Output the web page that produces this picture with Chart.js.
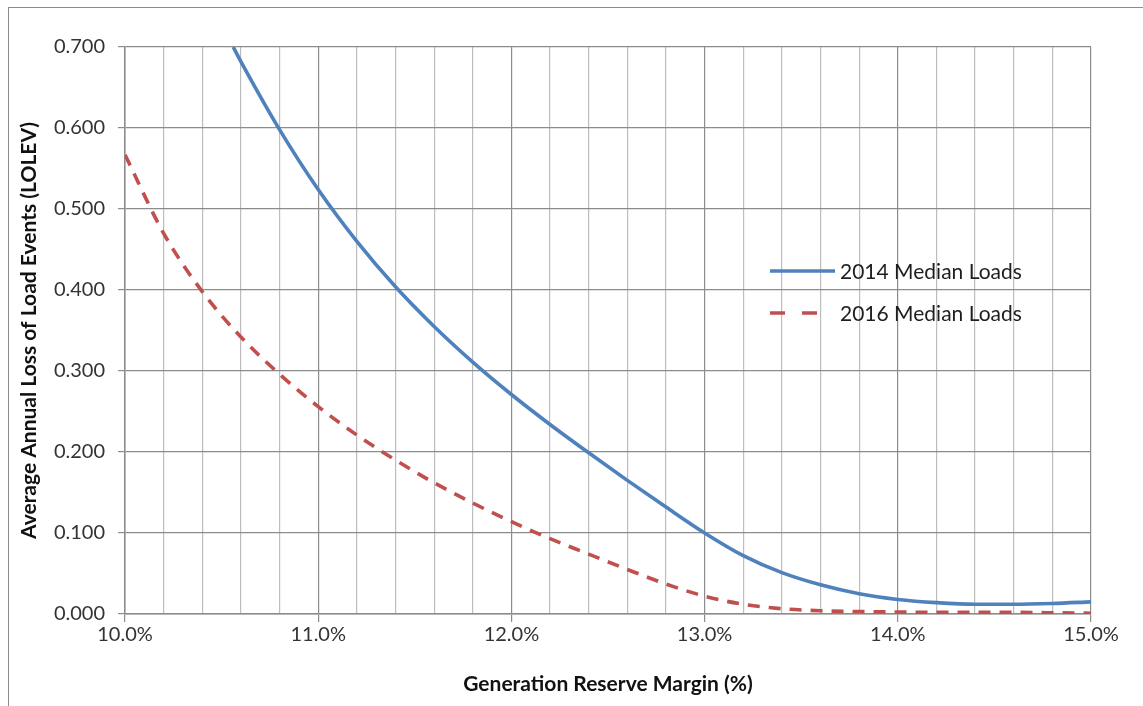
<!DOCTYPE html>
<html lang="en">
<head>
    <meta charset="UTF-8">
    <title>LOLEV vs Reserve Margin</title>
    <script src="https://cdn.jsdelivr.net/npm/chart.js@4.4.8/dist/chart.umd.min.js"></script>
    <style>
        html, body {
            margin: 0;
            background: #ffffff;
        }
        #wrap {
            position: relative;
            width: 1143px;
            height: 706px;
        }
        #frame {
            position: absolute;
            left: 8px;
            top: 7px;
            right: 0;
            bottom: 0;
            border-top: 1.5px solid #8c8c8c;
            border-left: 1.5px solid #8c8c8c;
        }
        #myChart {
            position: absolute;
            left: 0;
            top: 0;
        }
    </style>
</head>
<body>
<div id="wrap">
    <div id="frame"></div>
    <canvas id="myChart" width="1143" height="706"></canvas>
</div>

<script>
    // reserve margin (%) / LOLEV
    const margin2014 = [10.56, 10.6, 10.8, 11.0, 11.2, 11.4, 11.6, 11.8, 12.0, 12.2, 12.4, 12.6, 12.8,
        13.0, 13.2, 13.4, 13.6, 13.8, 14.0, 14.2, 14.4, 14.6, 14.8, 15.0]
    const lolev2014 = [0.700, 0.682, 0.598, 0.524, 0.460, 0.404, 0.355, 0.311, 0.271, 0.234, 0.199, 0.165, 0.132,
        0.100, 0.072, 0.051, 0.036, 0.025, 0.018, 0.014, 0.012, 0.012, 0.013, 0.015]

    const margin2016 = [10.0, 10.2, 10.4, 10.6, 10.8, 11.0, 11.2, 11.4, 11.6, 11.8, 12.0, 12.2, 12.4,
        12.6, 12.8, 13.0, 13.2, 13.4, 13.6, 13.8, 14.0, 14.2, 14.4, 14.6, 14.8, 15.0]
    const lolev2016 = [0.567, 0.470, 0.398, 0.342, 0.296, 0.256, 0.221, 0.190, 0.162, 0.137, 0.114, 0.093, 0.074,
        0.055, 0.037, 0.022, 0.012, 0.0065, 0.004, 0.003, 0.0025, 0.002, 0.002, 0.002, 0.0015, 0.001]

    const seriesNames = ['2014 Median Loads', '2016 Median Loads']
    const xTitle = 'Generation Reserve Margin (%)'
    const yTitle = 'Average Annual Loss of Load Events (LOLEV)'

    const blue = '#4f81bd'
    const red = '#c0504d'
    const fontFamily = 'Lato, "Open Sans", sans-serif'
    const isMajor = v => Math.abs(v - Math.round(v)) < 1e-6

    const toPoints = (xs, ys) => xs.map((x, i) => ({x: x, y: ys[i]}))

    // legend drawn inside the plot, like the original
    const insideLegend = {
        id: 'insideLegend',
        afterDraw(chart) {
            const c = chart.ctx
            const area = chart.chartArea
            const x0 = area.right - 321
            const rows = [area.top + 224, area.top + 266]
            c.save()
            c.font = '21px ' + fontFamily
            c.textBaseline = 'middle'
            chart.data.datasets.forEach((ds, i) => {
                const y = rows[i]
                const dashed = !!ds.borderDash
                c.beginPath()
                c.strokeStyle = ds.borderColor
                c.lineWidth = ds.borderWidth
                c.setLineDash(dashed ? [15, 17] : [])
                c.moveTo(x0, y)
                c.lineTo(x0 + (dashed ? 47 : 65), y)
                c.stroke()
                c.setLineDash([])
                c.fillStyle = '#1e1e1e'
                c.fillText(ds.label, x0 + 70, y + 1)
            })
            c.restore()
        }
    }

    const ctx = document.getElementById('myChart')
    const chart = new Chart(ctx, {
        type: 'line',
        data: {
            datasets: [
                {
                    label: seriesNames[0],
                    data: toPoints(margin2014, lolev2014),
                    borderColor: blue,
                    borderWidth: 3.6,
                    pointRadius: 0,
                    cubicInterpolationMode: 'monotone',
                    fill: false
                },
                {
                    label: seriesNames[1],
                    data: toPoints(margin2016, lolev2016),
                    borderColor: red,
                    borderWidth: 3.6,
                    borderDash: [12, 9],
                    pointRadius: 0,
                    cubicInterpolationMode: 'monotone',
                    fill: false
                }
            ]
        },
        plugins: [insideLegend],
        options: {
            responsive: false,
            animation: false,
            layout: {
                padding: {left: 13, top: 47, right: 52, bottom: 5}
            },
            plugins: {
                legend: {display: false},
                tooltip: {enabled: false}
            },
            scales: {
                x: {
                    type: 'linear',
                    min: 10,
                    max: 15,
                    afterFit: s => { s.height = 87 },
                    ticks: {
                        stepSize: 0.2,
                        autoSkip: false,
                        maxRotation: 0,
                        padding: 1,
                        color: '#333333',
                        font: {family: fontFamily, size: 20},
                        callback: v => isMajor(v) ? v.toFixed(1) + '%' : ''
                    },
                    grid: {
                        color: c => isMajor(c.tick.value) ? '#8c8c8c' : '#bdbdbd',
                        lineWidth: 1.2,
                        tickLength: 8,
                        tickColor: c => isMajor(c.tick.value) ? '#8c8c8c' : 'rgba(0,0,0,0)'
                    },
                    border: {color: '#8c8c8c', width: 1.5},
                    title: {
                        display: true,
                        text: xTitle,
                        color: '#111111',
                        font: {family: fontFamily, size: 21, weight: 'bold'}
                    }
                },
                y: {
                    min: 0,
                    max: 0.7,
                    afterFit: s => { s.width = 112 },
                    ticks: {
                        stepSize: 0.1,
                        padding: 13,
                        color: '#333333',
                        font: {family: fontFamily, size: 20},
                        callback: v => v.toFixed(3)
                    },
                    grid: {
                        color: '#8c8c8c',
                        lineWidth: 1.2,
                        tickLength: 7
                    },
                    border: {color: '#8c8c8c', width: 1.5},
                    title: {
                        display: true,
                        text: yTitle,
                        color: '#111111',
                        font: {family: fontFamily, size: 21, weight: 'bold'}
                    }
                }
            }
        }
    })
</script>
</body>
</html>
